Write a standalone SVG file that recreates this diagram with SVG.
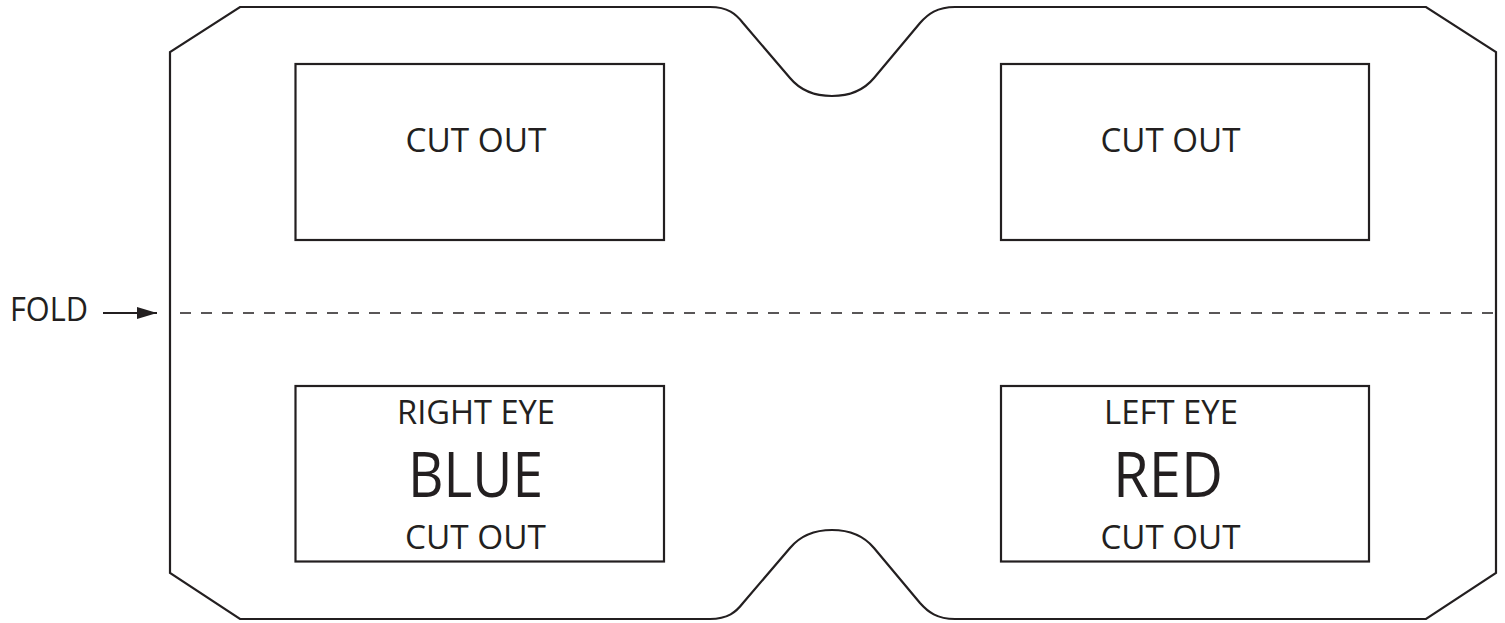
<svg xmlns="http://www.w3.org/2000/svg" width="1505" height="623" viewBox="0 0 1505 623">
<style>
.ln{fill:none;stroke:#231f20;stroke-width:2.2}
.t{font-family:"Open Sans","Liberation Sans",sans-serif;fill:#231f20;text-anchor:middle}
.s{font-size:33px}
.b{font-size:62px}
</style>
<defs>
<marker id="ah" viewBox="0 0 20 12" refX="20" refY="6" markerWidth="20" markerHeight="12" markerUnits="userSpaceOnUse" orient="auto">
<path d="M0,0 L20,6 L0,12 Z" fill="#231f20"/>
</marker>
</defs>
<g id="outline">
<path class="ln" d="M240,7 L710,7 C728,7 736,14 743,23 L790,78 C800,90 815,96 832,96 C849,96 864,90 874,78 L920,23 C928,14 937,7 955,7 L1426,7 L1496,52 L1496,573 L1426,619 L955,619 C937,619 928,612 920,603 L874,548 C864,536 849,530 832,530 C815,530 800,536 790,548 L743,603 C736,612 728,619 710,619 L240,619 L170,573 L170,52 Z"/>
</g>
<g id="cutout-top-left">
<rect class="ln" x="295.5" y="64" width="368.5" height="176"/>
<text class="t s" x="476" y="152" textLength="141" lengthAdjust="spacingAndGlyphs">CUT OUT</text>
</g>
<g id="cutout-top-right">
<rect class="ln" x="1001" y="64" width="368" height="176"/>
<text class="t s" x="1170.5" y="152" textLength="140" lengthAdjust="spacingAndGlyphs">CUT OUT</text>
</g>
<g id="right-eye-blue">
<rect class="ln" x="295.5" y="386" width="368.5" height="175.5"/>
<text class="t s" x="476" y="424" textLength="158" lengthAdjust="spacingAndGlyphs">RIGHT EYE</text>
<text class="t b" x="475.5" y="497" textLength="135" lengthAdjust="spacingAndGlyphs">BLUE</text>
<text class="t s" x="475.5" y="549" textLength="141" lengthAdjust="spacingAndGlyphs">CUT OUT</text>
</g>
<g id="left-eye-red">
<rect class="ln" x="1001" y="386" width="368" height="175.5"/>
<text class="t s" x="1171" y="424" textLength="134" lengthAdjust="spacingAndGlyphs">LEFT EYE</text>
<text class="t b" x="1168" y="497" textLength="110" lengthAdjust="spacingAndGlyphs">RED</text>
<text class="t s" x="1170.5" y="549" textLength="140" lengthAdjust="spacingAndGlyphs">CUT OUT</text>
</g>
<g id="fold-label">
<text class="t s" x="49" y="321" textLength="78" lengthAdjust="spacingAndGlyphs">FOLD</text>
</g>
<g id="connectors">
<line x1="180" y1="313" x2="1496" y2="313" stroke="#231f20" stroke-width="1.6" stroke-dasharray="11 10"/>
<line x1="103" y1="313" x2="157" y2="313" stroke="#231f20" stroke-width="2.2" marker-end="url(#ah)"/>
</g>
</svg>
